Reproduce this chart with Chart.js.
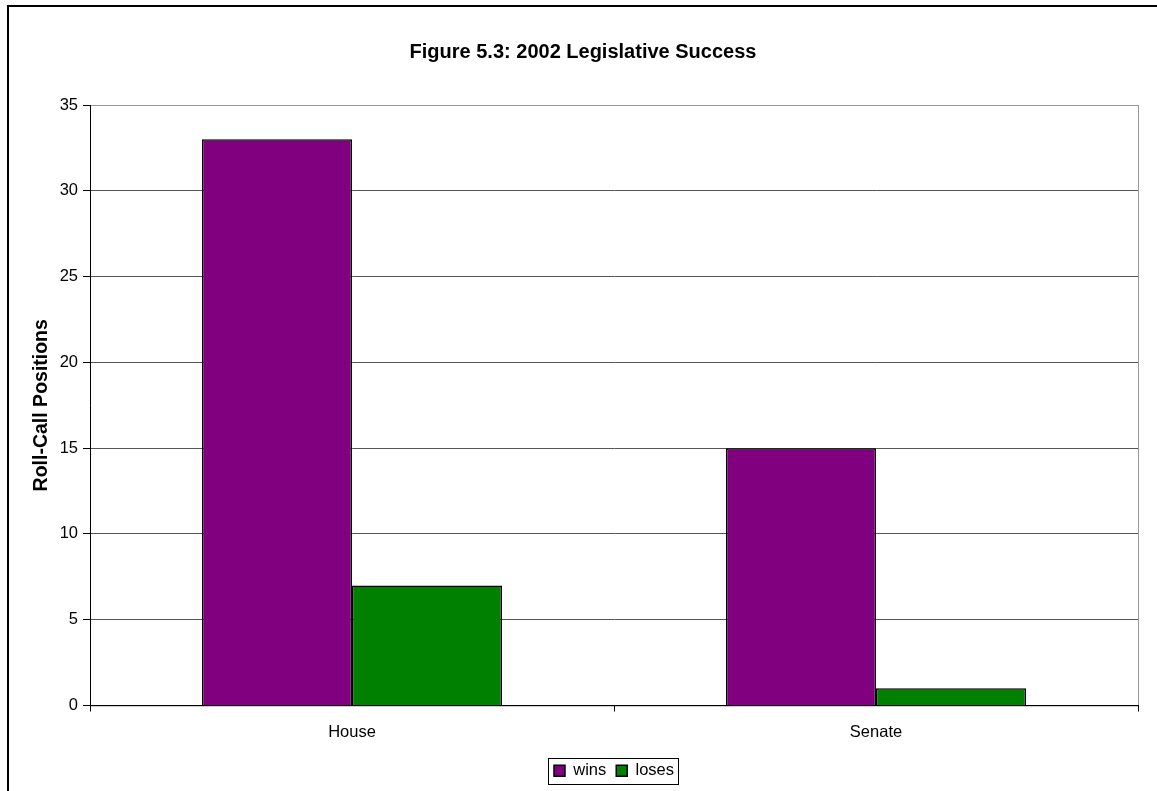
<!DOCTYPE html>
<html>
<head>
<meta charset="utf-8">
<script src="https://cdn.jsdelivr.net/npm/chart.js@4/dist/chart.umd.min.js"></script>
<style>
  html, body { margin: 0; padding: 0; background: #fff; }
  #wrap { width: 1157px; height: 791px; position: relative; }
</style>
</head>
<body>
<div id="wrap"><canvas id="grafico"></canvas></div>
<script>
// datos
const categorias = ['House', 'Senate'];
const wins = [33, 15];
const loses = [7, 1];
const yTicks = [0, 5, 10, 15, 20, 25, 30, 35];

Chart.defaults.font.family = '"Liberation Sans", Arial, sans-serif';
Chart.defaults.color = '#000';

// marco exterior + borde del area del grafico + caja de la leyenda
const marco = {
    id: 'marco',
    beforeDraw(chart) {
        const ctx = chart.ctx;
        ctx.save();
        ctx.fillStyle = '#fff';
        ctx.fillRect(0, 0, chart.width, chart.height);
        ctx.strokeStyle = '#000';
        ctx.lineWidth = 2;
        ctx.beginPath();
        ctx.moveTo(8, chart.height);
        ctx.lineTo(8, 6);
        ctx.lineTo(chart.width, 6);
        ctx.stroke();
        const a = chart.chartArea;
        ctx.strokeStyle = '#999';
        ctx.lineWidth = 1;
        ctx.strokeRect(a.left + 0.5, a.top + 0.5, a.right - a.left, a.bottom - a.top);
        ctx.restore();
    },
    afterDraw(chart) {
        const l = chart.legend;
        if (!l || !l.legendHitBoxes.length) return;
        const hb = l.legendHitBoxes;
        const x0 = hb[0].left - 6;
        const last = hb[hb.length - 1];
        const x1 = last.left + last.width + 4;
        const cy = hb[0].top + hb[0].height / 2;
        const ctx = chart.ctx;
        ctx.save();
        ctx.strokeStyle = '#000';
        ctx.lineWidth = 1;
        ctx.strokeRect(Math.round(x0) + 0.5, Math.round(cy - 13) + 0.5, Math.round(x1 - x0), 26);
        ctx.restore();
    }
};

new Chart(document.getElementById('grafico'), {
    type: 'bar',
    data: {
        labels: categorias,
        datasets: [{
            label: 'wins',
            data: wins,
            backgroundColor: '#800080',
            borderColor: '#000',
            borderWidth: 1.5
        }, {
            label: 'loses',
            data: loses,
            backgroundColor: '#008000',
            borderColor: '#000',
            borderWidth: 1.5
        }]
    },
    options: {
        responsive: true,
        maintainAspectRatio: false,
        animation: false,
        datasets: {
            bar: { categoryPercentage: 0.5725, barPercentage: 1.0 }
        },
        layout: { padding: { left: 28, right: 19, top: 0, bottom: 2 } },
        plugins: {
            title: {
                display: true,
                text: 'Figure 5.3: 2002 Legislative Success',
                font: { size: 20, weight: 'bold' },
                padding: { top: 40, bottom: 41 }
            },
            legend: {
                position: 'bottom',
                fullSize: false,
                labels: {
                    boxWidth: 11,
                    boxHeight: 11,
                    padding: 10,
                    font: { size: 16.5 },
                    color: '#000'
                }
            },
            tooltip: { enabled: false }
        },
        scales: {
            x: {
                grid: {
                    offset: true,
                    drawOnChartArea: false,
                    drawTicks: true,
                    tickLength: 6,
                    color: '#000'
                },
                border: { color: '#000', width: 1 },
                ticks: { font: { size: 16.5 }, padding: 11 },
                afterFit: s => { s.height = 47; }
            },
            y: {
                min: 0,
                max: 35,
                afterBuildTicks: s => { s.ticks = yTicks.map(v => ({ value: v })); },
                grid: {
                    color: ctx => ctx.tick && ctx.tick.value === 35 ? '#999' : '#555',
                    tickLength: 7,
                    tickColor: '#000'
                },
                border: { color: '#000', width: 1 },
                ticks: { font: { size: 16.5 }, padding: 5 },
                title: {
                    display: true,
                    text: 'Roll-Call Positions',
                    font: { size: 19.5, weight: 'bold' },
                    padding: { top: 2, bottom: 0 }
                },
                afterFit: s => { s.width = 62; }
            }
        }
    },
    plugins: [marco]
});
</script>
</body>
</html>
